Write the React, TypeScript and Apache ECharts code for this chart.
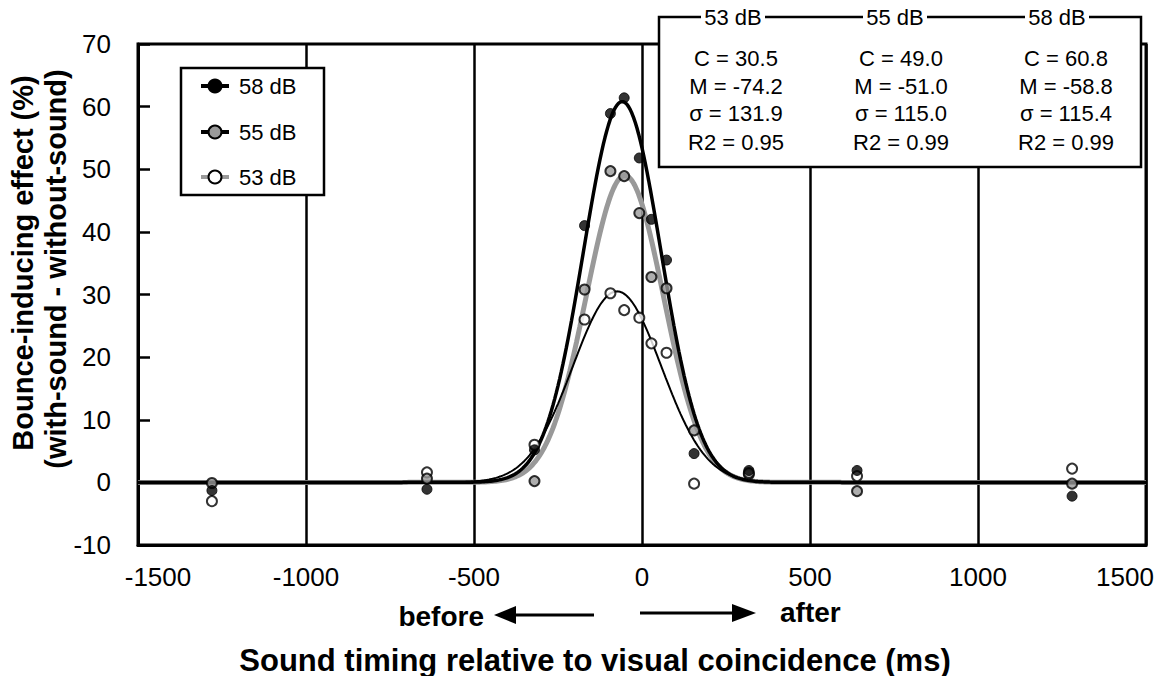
import React, { useEffect, useRef } from "react";
import * as echarts from "echarts";

// Sound timing (ms) of each measured condition
const soa = [-1280, -640, -320, -171, -94, -53, -8, 28, 73, 155, 318, 640, 1280];
// Bounce-inducing effect (%) per sound level
const y58 = [-1.3, -1.1, 5.2, 41.0, 58.9, 61.4, 51.8, 42.0, 35.5, 4.6, 1.9, 1.9, -2.2];
const y55 = [-0.1, 0.6, 0.2, 30.8, 49.7, 48.9, 43.0, 32.8, 31.0, 8.3, 1.5, -1.4, -0.2];
const y53 = [-3.0, 1.6, 6.0, 26.0, 30.2, 27.5, 26.3, 22.2, 20.7, -0.2, 1.3, 1.0, 2.2];

// Gaussian fit parameters shown in the chart (order: 53, 55, 58 dB)
const levels = ["53 dB", "55 dB", "58 dB"];
const fitC = [30.5, 49.0, 60.8];
const fitM = [-74.2, -51.0, -58.8];
const fitS = [131.9, 115.0, 115.4];
const fitR2 = [0.95, 0.99, 0.99];

const xTicks = [-1500, -1000, -500, 0, 500, 1000, 1500];

const FONT = "'Liberation Sans', Arial, Helvetica, sans-serif";

function fitCurve(i: number): number[][] {
  const pts: number[][] = [];
  for (let x = -1500; x <= 1500; x += 5) {
    const d = (x - fitM[i]) / fitS[i];
    pts.push([x, fitC[i] * Math.exp(-0.5 * d * d)]);
  }
  return pts;
}

function pairs(ys: number[]): number[][] {
  return soa.map((x, i) => [x, ys[i]]);
}

export default function App() {
  const ref = useRef<HTMLDivElement>(null);
  useEffect(() => {
    if (!ref.current) return;
    const chart = echarts.init(ref.current, undefined, { renderer: "svg" });

    const legendRows = [
      { label: "58 dB", y: 86, fill: "#000", line: "#000" },
      { label: "55 dB", y: 132, fill: "#9a9a9a", line: "#000" },
      { label: "53 dB", y: 177, fill: "#fff", line: "#9a9a9a" },
    ];
    const legendEls: any[] = [
      {
        type: "rect",
        shape: { x: 181, y: 68, width: 143, height: 127 },
        style: { fill: "#fff", stroke: "#000", lineWidth: 2.5 },
        z: 100,
      },
    ];
    legendRows.forEach((r) => {
      legendEls.push({
        type: "line",
        shape: { x1: 201, y1: r.y, x2: 229, y2: r.y },
        style: { stroke: r.line, lineWidth: 4 },
        z: 101,
      });
      legendEls.push({
        type: "circle",
        shape: { cx: 215, cy: r.y, r: 6.5 },
        style: { fill: r.fill, stroke: "#000", lineWidth: 2 },
        z: 102,
      });
      legendEls.push({
        type: "text",
        x: 239,
        y: r.y,
        style: {
          text: r.label,
          font: `22px ${FONT}`,
          fill: "#000",
          textAlign: "left",
          textVerticalAlign: "middle",
        },
        z: 102,
      });
    });

    const colX = [736, 901, 1066];
    const headX = [733, 895, 1057];
    const statEls: any[] = [
      {
        type: "rect",
        shape: { x: 659, y: 17, width: 482, height: 150 },
        style: { fill: "#fff", stroke: "#000", lineWidth: 2.5 },
        z: 100,
      },
    ];
    levels.forEach((lv, i) => {
      statEls.push({
        type: "rect",
        shape: { x: headX[i] - 32, y: 6, width: 64, height: 22 },
        style: { fill: "#fff" },
        z: 101,
      });
      statEls.push({
        type: "text",
        x: headX[i],
        y: 17,
        style: {
          text: lv,
          font: `22px ${FONT}`,
          fill: "#000",
          textAlign: "center",
          textVerticalAlign: "middle",
        },
        z: 102,
      });
      const rows = [
        `C = ${fitC[i].toFixed(1)}`,
        `M = ${fitM[i].toFixed(1)}`,
        `σ = ${fitS[i].toFixed(1)}`,
        `R2 = ${fitR2[i].toFixed(2)}`,
      ];
      const rowY = [58, 86, 113, 142];
      rows.forEach((t, k) => {
        statEls.push({
          type: "text",
          x: colX[i],
          y: rowY[k],
          style: {
            text: t,
            font: `22px ${FONT}`,
            fill: "#000",
            textAlign: "center",
            textVerticalAlign: "middle",
          },
          z: 102,
        });
      });
    });

    const titleEls: any[] = [
      {
        type: "text",
        x: 23,
        y: 263,
        rotation: Math.PI / 2,
        style: {
          text: "Bounce-inducing effect (%)",
          font: `bold 29px ${FONT}`,
          fill: "#000",
          textAlign: "center",
          textVerticalAlign: "middle",
        },
      },
      {
        type: "text",
        x: 56,
        y: 269,
        rotation: Math.PI / 2,
        style: {
          text: "(with-sound - without-sound)",
          font: `bold 29px ${FONT}`,
          fill: "#000",
          textAlign: "center",
          textVerticalAlign: "middle",
        },
      },
      {
        type: "text",
        x: 484,
        y: 616,
        style: {
          text: "before",
          font: `bold 28px ${FONT}`,
          fill: "#000",
          textAlign: "right",
          textVerticalAlign: "middle",
        },
      },
      {
        type: "text",
        x: 780,
        y: 612,
        style: {
          text: "after",
          font: `bold 28px ${FONT}`,
          fill: "#000",
          textAlign: "left",
          textVerticalAlign: "middle",
        },
      },
      {
        type: "line",
        shape: { x1: 512, y1: 615, x2: 594, y2: 615 },
        style: { stroke: "#000", lineWidth: 3 },
      },
      {
        type: "polygon",
        shape: { points: [[494, 615], [516, 606], [516, 624]] },
        style: { fill: "#000" },
      },
      {
        type: "line",
        shape: { x1: 640, y1: 613, x2: 734, y2: 613 },
        style: { stroke: "#000", lineWidth: 3 },
      },
      {
        type: "polygon",
        shape: { points: [[756, 613], [732, 604], [732, 622]] },
        style: { fill: "#000" },
      },
      {
        type: "text",
        x: 595,
        y: 660,
        style: {
          text: "Sound timing relative to visual coincidence (ms)",
          font: `bold 31px ${FONT}`,
          fill: "#000",
          textAlign: "center",
          textVerticalAlign: "middle",
        },
      },
    ];

    const markerBase = { symbol: "circle", symbolSize: 10 };

    chart.setOption({
      animation: false,
      backgroundColor: "#fff",
      grid: {
        left: 138,
        right: 24,
        top: 44,
        bottom: 131,
        show: true,
        borderColor: "#000",
        borderWidth: 3,
      },
      xAxis: {
        type: "value",
        min: -1500,
        max: 1500,
        interval: 500,
        axisLine: { show: true, onZero: false, lineStyle: { color: "#000", width: 3 } },
        axisTick: { show: false },
        splitLine: { show: true, lineStyle: { color: "#000", width: 2.5 } },
        axisLabel: {
          fontSize: 26,
          fontFamily: FONT,
          color: "#000",
          margin: 19,
          formatter: (v: number) =>
            v === xTicks[0]
              ? `{l|${v}}`
              : v === xTicks[xTicks.length - 1]
              ? `{r|${v}}`
              : String(v),
          rich: {
            l: { fontSize: 26, fontFamily: FONT, color: "#000", padding: [0, 0, 0, 40] },
            r: { fontSize: 26, fontFamily: FONT, color: "#000", padding: [0, 42, 0, 0] },
          },
        },
      },
      yAxis: {
        type: "value",
        min: -10,
        max: 70,
        interval: 10,
        axisLine: { show: true, onZero: false, lineStyle: { color: "#000", width: 3 } },
        axisTick: { show: true, inside: true, length: 12, lineStyle: { color: "#000", width: 2.5 } },
        splitLine: { show: false },
        axisLabel: { fontSize: 26, fontFamily: FONT, color: "#000", margin: 27 },
      },
      series: [
        {
          name: "fit 55 dB",
          type: "line",
          data: fitCurve(1),
          showSymbol: false,
          lineStyle: { color: "#999", width: 5 },
          z: 2,
        },
        {
          name: "fit 58 dB",
          type: "line",
          data: fitCurve(2),
          showSymbol: false,
          lineStyle: { color: "#000", width: 3.5 },
          z: 3,
        },
        {
          name: "fit 53 dB",
          type: "line",
          data: fitCurve(0),
          showSymbol: false,
          lineStyle: { color: "#000", width: 2 },
          z: 4,
        },
        {
          name: "53 dB",
          type: "scatter",
          data: pairs(y53),
          ...markerBase,
          itemStyle: { color: "#fff", borderColor: "#000", borderWidth: 2 },
          z: 5,
        },
        {
          name: "55 dB",
          type: "scatter",
          data: pairs(y55),
          ...markerBase,
          itemStyle: { color: "#9a9a9a", borderColor: "#000", borderWidth: 2 },
          z: 6,
        },
        {
          name: "58 dB",
          type: "scatter",
          data: pairs(y58),
          ...markerBase,
          itemStyle: { color: "#000", borderColor: "#000", borderWidth: 1 },
          z: 7,
        },
      ],
      graphic: [...legendEls, ...statEls, ...titleEls],
    });
    return () => chart.dispose();
  }, []);
  return (
    <div
      ref={ref}
      style={{ position: "absolute", left: 0, top: 0, width: 1170, height: 676 }}
    />
  );
}
